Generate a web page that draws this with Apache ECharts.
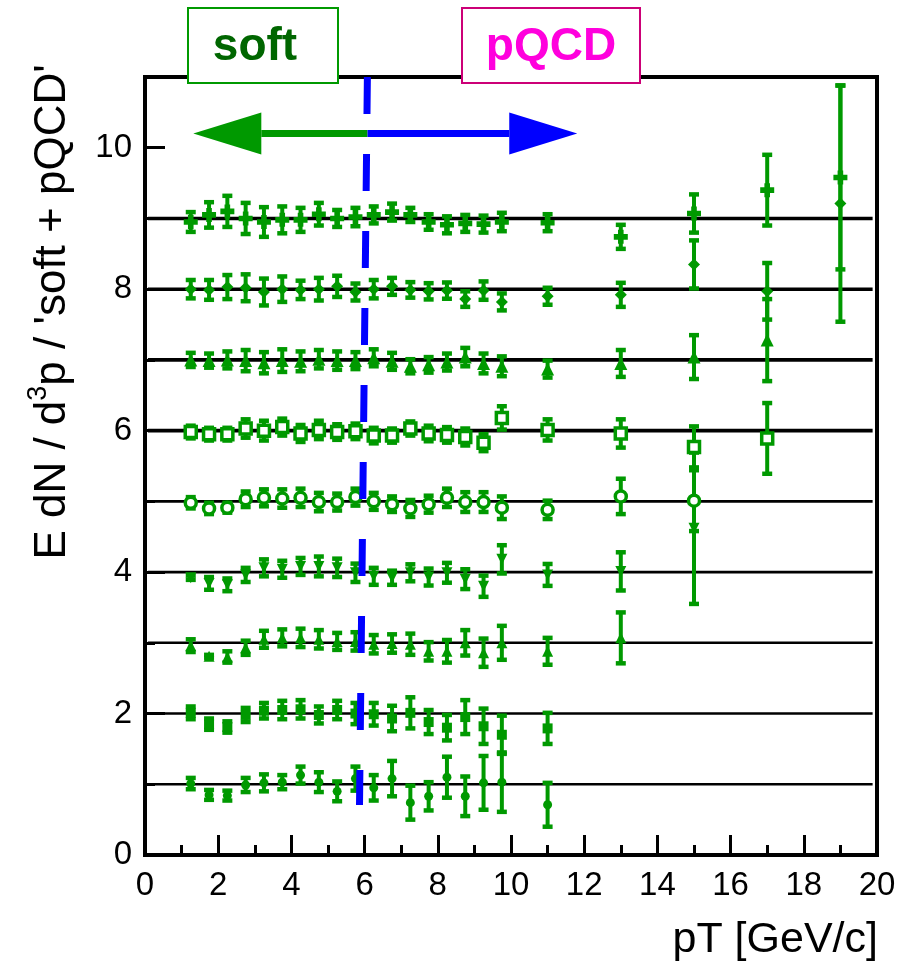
<!DOCTYPE html>
<html><head><meta charset="utf-8">
<script src="https://cdn.jsdelivr.net/npm/echarts@6/dist/echarts.min.js"></script>
<style>html,body{margin:0;padding:0;background:#fff}#c{width:903px;height:962px}</style>
</head><body><div id="c"></div>
<script>
// ---------------- data ----------------
const pT = [1.25,1.75,2.25,2.75,3.25,3.75,4.25,4.75,5.25,5.75,6.25,6.75,7.25,7.75,8.25,8.75,9.25,9.75,11,13,15,17,19];

const s9 = [8.95,9.05,9.1,9.0,8.95,8.98,8.98,9.06,9.0,9.02,9.05,9.09,9.05,8.95,8.91,8.93,8.92,8.95,8.94,8.74,9.07,9.4,9.58];
const e9 = [0.14,0.18,0.22,0.22,0.21,0.19,0.17,0.16,0.12,0.13,0.12,0.12,0.1,0.11,0.12,0.12,0.12,0.13,0.12,0.17,0.27,0.5,1.3];

const s8 = [8.0,7.99,8.03,8.02,7.96,8.0,7.99,8.0,8.04,7.96,8.0,8.04,7.99,7.97,7.98,7.86,7.98,7.82,7.9,7.92,8.35,7.97,9.21];
const e8 = [0.13,0.14,0.17,0.19,0.19,0.18,0.13,0.16,0.15,0.12,0.13,0.12,0.11,0.115,0.115,0.11,0.13,0.12,0.12,0.17,0.34,0.40,1.67];

const s7 = [7.0,6.99,7.0,6.99,6.96,6.99,6.98,7.01,6.99,6.99,7.03,6.98,6.91,6.93,6.97,7.04,6.95,6.91,6.87,6.95,7.04,7.28,null];
const e7 = [0.1,0.1,0.12,0.15,0.15,0.16,0.14,0.13,0.13,0.12,0.12,0.12,0.1,0.11,0.12,0.13,0.14,0.14,0.12,0.19,0.31,0.58,null];

const s6 = [5.98,5.95,5.95,6.03,6.0,6.05,5.96,6.01,5.98,5.99,5.93,5.93,6.03,5.96,5.94,5.91,5.83,6.18,6.01,5.96,5.77,5.89,null];
const e6 = [0.09,0.09,0.09,0.13,0.14,0.12,0.12,0.13,0.11,0.11,0.11,0.1,0.1,0.11,0.11,0.12,0.12,0.165,0.15,0.2,0.29,0.5,null];

const s5 = [4.98,4.9,4.91,5.03,5.05,5.04,5.05,4.99,4.99,5.06,5.0,4.96,4.9,4.96,5.05,4.99,4.99,4.91,4.88,5.07,5.01,null,null];
const e5 = [0.08,0.08,0.07,0.11,0.12,0.13,0.13,0.13,0.12,0.12,0.12,0.11,0.12,0.12,0.13,0.14,0.14,0.16,0.13,0.25,0.43,null,null];

const s4 = [3.92,3.84,3.82,3.96,4.06,4.04,4.08,4.08,4.06,3.99,3.94,3.92,3.99,3.93,3.99,3.9,3.8,4.18,3.96,4.01,4.62,null,null];
const e4 = [0.03,0.09,0.09,0.1,0.12,0.12,0.12,0.14,0.13,0.13,0.12,0.1,0.12,0.12,0.14,0.14,0.15,0.2,0.155,0.27,1.07,null,null];

const s3 = [2.96,2.81,2.8,2.93,3.05,3.07,3.07,3.05,3.02,3.02,2.98,2.99,2.98,2.88,2.88,3.0,2.86,3.0,2.88,3.07,null,null,null];
const e3 = [0.09,0.02,0.08,0.1,0.12,0.12,0.13,0.13,0.12,0.13,0.13,0.13,0.15,0.13,0.16,0.18,0.2,0.24,0.19,0.36,null,null,null];

const s2 = [2.01,1.85,1.81,1.98,2.04,2.05,2.06,1.98,2.05,2.0,1.99,1.93,2.01,1.88,1.8,1.95,1.82,1.7,1.79,null,null,null,null];
const e2 = [0.09,0.08,0.08,0.1,0.11,0.13,0.13,0.12,0.13,0.15,0.16,0.18,0.22,0.17,0.18,0.24,0.25,0.27,0.22,null,null,null,null];

const s1 = [1.01,0.85,0.84,0.99,1.02,1.03,1.13,1.03,0.9,1.08,0.95,1.08,0.74,0.83,1.1,0.83,1.02,1.03,0.71,null,null,null,null];
const e1 = [0.08,0.07,0.07,0.1,0.12,0.1,0.12,0.14,0.14,0.17,0.18,0.25,0.24,0.2,0.29,0.28,0.38,0.42,0.31,null,null,null,null];

const refLevels = [1,2,3,4,5,6,7,8,9];
const refRange = [0.08, 19.88];
const yTicks = [0,2,4,6,8,10];
const yMinorTicks = [1,3,5,7,9];
const xTicks = [0,2,4,6,8,10,12,14,16,18,20];

// boundary line (soft | pQCD), dashed, slightly tilted
const boundaryX = [6.076, 5.861];
const boundaryY = [11, 0.706];
// arrows: [tipX, y, startX]
const arrowGreen = [1.32, 10.2, 6.08];
const arrowBlue = [11.81, 10.2, 6.08];

// ---------------- chart ----------------
const GREEN = '#009900';
const FONT = '"Liberation Sans", Arial, Helvetica, sans-serif';
const chart = echarts.init(document.getElementById('c'), null, {renderer: 'canvas'});

const datasets = [
  {v: s9, e: e9, symbol: 'path://M3,0H7V3H10V7H7V10H3V7H0V3H3Z', size: 14},
  {v: s8, e: e8, symbol: 'diamond', size: 12},
  {v: s7, e: e7, symbol: 'triangle', size: 13},
  {v: s6, e: e6, symbol: 'rect', size: 11, open: true},
  {v: s5, e: e5, symbol: 'circle', size: 11, open: true},
  {v: s4, e: e4, symbol: 'path://M0,0L10,0L5,9Z', size: 11},
  {v: s3, e: e3, symbol: 'triangle', size: 11},
  {v: s2, e: e2, symbol: 'rect', size: 10},
  {v: s1, e: e1, symbol: 'circle', size: 9}
];

function errRender(params, api) {
  const x = api.value(0), lo = api.value(1), hi = api.value(2);
  const pLo = api.coord([x, lo]), pHi = api.coord([x, hi]);
  const cw = 10, ct = 4.5;
  return {type: 'group', children: [
    {type: 'line', shape: {x1: pLo[0], y1: pLo[1], x2: pHi[0], y2: pHi[1]}, style: {stroke: GREEN, lineWidth: 4}},
    {type: 'rect', shape: {x: pHi[0] - cw / 2, y: pHi[1] - ct / 2, width: cw, height: ct}, style: {fill: GREEN}},
    {type: 'rect', shape: {x: pLo[0] - cw / 2, y: pLo[1] - ct / 2, width: cw, height: ct}, style: {fill: GREEN}}
  ]};
}

const series = [];
// reference lines
series.push({
  type: 'custom', z: 1, silent: true,
  data: refLevels.map(l => [refRange[0], refRange[1], l]),
  renderItem: function (params, api) {
    const a = api.coord([api.value(0), api.value(2)]);
    const b = api.coord([api.value(1), api.value(2)]);
    const w = api.value(2) >= 6 ? 3.6 : 2.6;
    return {type: 'line', shape: {x1: a[0], y1: a[1], x2: b[0], y2: b[1]}, style: {stroke: '#000', lineWidth: w}};
  }
});
datasets.forEach(d => {
  const errData = [], ptData = [];
  pT.forEach((x, i) => {
    if (d.v[i] == null) return;
    errData.push([x, d.v[i] - d.e[i], d.v[i] + d.e[i]]);
    ptData.push([x, d.v[i]]);
  });
  series.push({type: 'custom', z: 3, silent: true, data: errData, renderItem: errRender, encode: {x: 0, y: [1, 2]}});
  series.push({
    type: 'scatter', z: 4, silent: true, data: ptData, symbol: d.symbol, symbolSize: d.size,
    itemStyle: d.open ? {color: '#fff', borderColor: GREEN, borderWidth: 3.5, opacity: 1} : {color: GREEN, opacity: 1}
  });
});
// dashed boundary
series.push({
  type: 'line', z: 6, silent: true, symbol: 'none',
  data: [[boundaryX[0], boundaryY[0]], [boundaryX[1], boundaryY[1]]],
  lineStyle: {color: '#0000ff', width: 7, type: [37, 40]}
});
// arrows
function arrowRender(params, api) {
  const tip = api.coord([api.value(0), api.value(1)]);
  const start = api.coord([api.value(2), api.value(1)]);
  const color = params.dataIndex === 0 ? GREEN : '#0000ff';
  const dir = tip[0] < start[0] ? -1 : 1;
  const hl = 68, hw = 21, st = 7;
  const back = tip[0] - dir * hl;
  return {type: 'group', children: [
    {type: 'rect', shape: {x: Math.min(start[0], back), y: tip[1] - st / 2, width: Math.abs(back - start[0]), height: st}, style: {fill: color}},
    {type: 'polygon', shape: {points: [[tip[0], tip[1]], [back, tip[1] - hw], [back, tip[1] + hw]]}, style: {fill: color}}
  ]};
}
series.push({type: 'custom', z: 7, silent: true, data: [arrowGreen, arrowBlue], renderItem: arrowRender, clip: false});

const option = {
  animation: false,
  backgroundColor: '#fff',
  grid: {left: 145, right: 26, top: 77, bottom: 107, show: true, borderColor: '#000', borderWidth: 4, backgroundColor: 'transparent'},
  xAxis: {
    type: 'value', min: 0, max: 20, interval: 2,
    axisLine: {show: false},
    axisTick: {show: true, inside: true, length: 20, lineStyle: {color: '#000', width: 3}},
    minorTick: {show: true, splitNumber: 2, length: 10, lineStyle: {color: '#000', width: 3}},
    splitLine: {show: false},
    axisLabel: {fontSize: 33, color: '#000', fontFamily: FONT, margin: 14,
      customValues: xTicks},
  },
  yAxis: [{
    type: 'value', min: 0, max: 11,
    axisLine: {show: false},
    axisTick: {show: true, inside: true, length: 20, lineStyle: {color: '#000', width: 3}, customValues: yTicks},
    splitLine: {show: false},
    axisLabel: {fontSize: 33, color: '#000', fontFamily: FONT, margin: 13, customValues: yTicks}
  }, {
    type: 'value', min: 0, max: 11, position: 'left',
    axisLine: {show: false},
    axisTick: {show: true, inside: true, length: 10, lineStyle: {color: '#000', width: 3}, customValues: yMinorTicks},
    splitLine: {show: false},
    axisLabel: {show: false}
  }],
  series: series,
  graphic: [
    {type: 'rect', z: 100, shape: {x: 188, y: 8, width: 150, height: 75}, style: {fill: '#fff', stroke: '#009900', lineWidth: 2}},
    {type: 'text', z: 101, x: 255, y: 47, style: {text: 'soft', fill: '#006600', font: 'bold 46px ' + FONT, align: 'center', verticalAlign: 'middle'}},
    {type: 'rect', z: 100, shape: {x: 462, y: 8, width: 178, height: 75}, style: {fill: '#fff', stroke: '#cc0077', lineWidth: 2}},
    {type: 'text', z: 101, x: 551, y: 47, style: {text: 'pQCD', fill: '#ff00dd', font: 'bold 46px ' + FONT, align: 'center', verticalAlign: 'middle'}},
    {type: 'text', z: 101, x: 878, y: 940, style: {text: 'pT [GeV/c]', fill: '#000', font: '43px ' + FONT, align: 'right', verticalAlign: 'middle'}},
    {type: 'text', z: 101, x: 50, y: 312, rotation: Math.PI / 2,
      style: {
        text: '{a|E dN / d}{s|3}{a|p / \'soft + pQCD\'}',
        align: 'center', verticalAlign: 'middle',
        rich: {
          a: {fontSize: 44, fontFamily: FONT, fill: '#000', color: '#000', lineHeight: 50, verticalAlign: 'bottom'},
          s: {fontSize: 27, fontFamily: FONT, fill: '#000', color: '#000', lineHeight: 50, verticalAlign: 'top', padding: [0, 0, 16, 0]}
        }
      }}
  ]
};
chart.setOption(option);
</script>
</body></html>
